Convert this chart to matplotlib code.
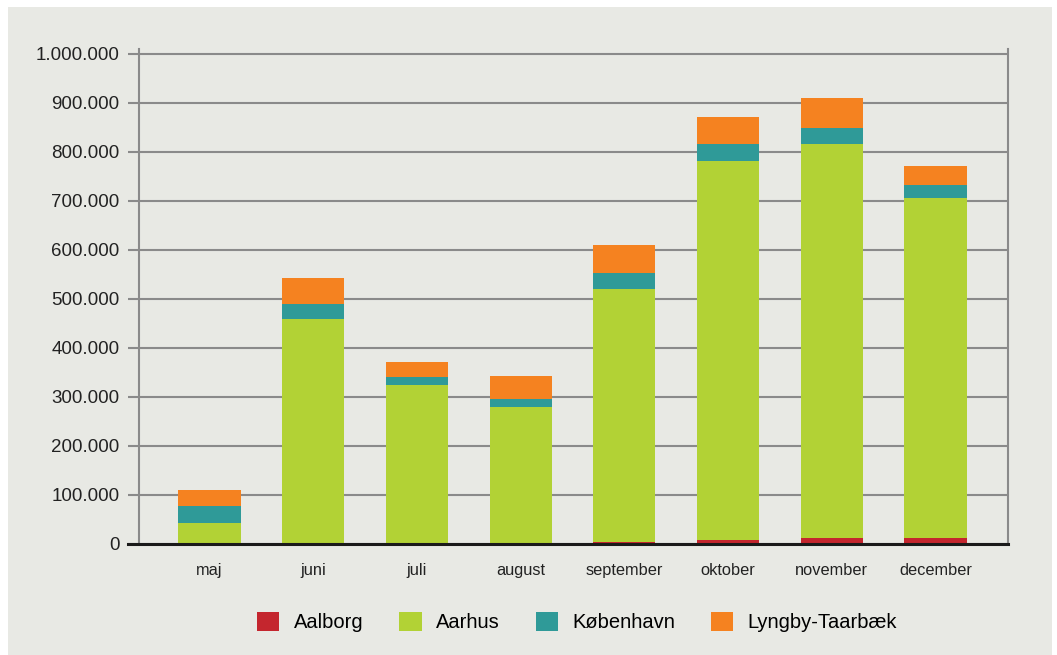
import matplotlib.pyplot as plt
import numpy as np
from matplotlib.patches import Rectangle
from matplotlib.lines import Line2D

plt.rcParams['font.family'] = ['Liberation Sans', 'DejaVu Sans']

# Monthly figures per municipality
months = ['maj', 'juni', 'juli', 'august', 'september', 'oktober', 'november', 'december']
aalborg = [0, 0, 0, 0, 5000, 8000, 12000, 13000]
aarhus = [42000, 459000, 324000, 280000, 515000, 774000, 804000, 693000]
koebenhavn = [36000, 31000, 17000, 16000, 33000, 34000, 33000, 26000]
lyngby = [33000, 53000, 30000, 47000, 57000, 55000, 61000, 40000]

series = [('Aalborg', aalborg, '#c4262e'),
          ('Aarhus', aarhus, '#b2d235'),
          ('København', koebenhavn, '#2f9a98'),
          ('Lyngby-Taarbæk', lyngby, '#f58220')]

bg = '#e8e9e4'
W, H = 1057, 655
fig = plt.figure(figsize=(W / 100, H / 100), dpi=100, facecolor='white')
fig.patches.append(Rectangle((8 / W, 0), (1052 - 8) / W, (H - 7) / H,
                             transform=fig.transFigure, facecolor=bg,
                             edgecolor='none', zorder=-10))

ax = fig.add_axes([139 / W, (H - 544) / H, (1008 - 139) / W, 495 / H])
ax.set_facecolor(bg)

x = np.arange(len(months))
bottom = np.zeros(len(months))
for name, vals, color in series:
    vals = np.array(vals, dtype=float)
    ax.bar(x, vals, 0.6, bottom=bottom, color=color, label=name, zorder=3,
           edgecolor='none')
    bottom += vals

ax.set_xlim(-0.68, len(months) - 1 + 0.70)
ax.set_ylim(0, 1010000)
ax.set_yticks(np.arange(0, 1000001, 100000))
ax.set_yticklabels([f'{int(v):,}'.replace(',', '.') for v in np.arange(0, 1000001, 100000)],
                   fontsize=13.5, color='#222222')
ax.set_xticks(x)
ax.set_xticklabels(months, fontsize=11.8, color='#222222')
ax.tick_params(axis='x', length=0, pad=14)
ax.tick_params(axis='y', length=8, width=1.5, color='#8a8a8a', pad=6)

ax.grid(axis='y', color='#8a8a8a', linewidth=1.5, zorder=1)
for side in ['top', 'bottom']:
    ax.spines[side].set_visible(False)
for side in ['left', 'right']:
    ax.spines[side].set_color('#8a8a8a')
    ax.spines[side].set_linewidth(1.5)

# baseline at zero, running out under the tick marks
ax.add_line(Line2D([-0.0127, 1.0], [0, 0], transform=ax.get_yaxis_transform(),
                   color='#1a1a1a', linewidth=2.2, clip_on=False, zorder=5))

handles, labels = ax.get_legend_handles_labels()
fig.legend(handles, labels, loc='center', bbox_to_anchor=(577 / W, 1 - 622 / H),
           ncol=4, frameon=False, fontsize=14.5, handlelength=1.1, handleheight=1.1,
           handletextpad=0.7, columnspacing=1.8)

fig.savefig('out.png', dpi=100, facecolor='white')
